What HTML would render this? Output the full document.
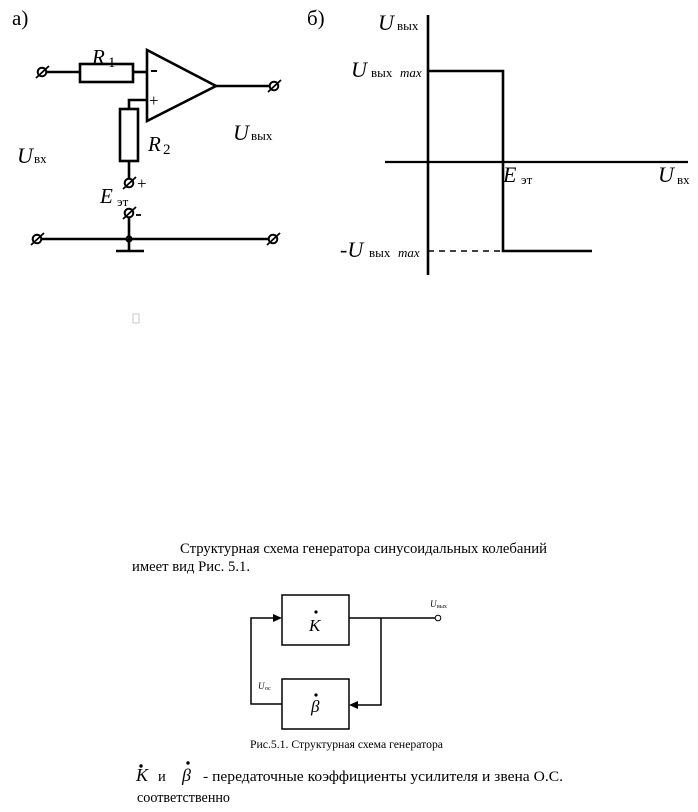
<!DOCTYPE html>
<html>
<head>
<meta charset="utf-8">
<style>
html,body{margin:0;padding:0;background:#fff;}
body{width:698px;height:812px;overflow:hidden;}
svg{display:block;}
text{font-family:"Liberation Serif","Noto Serif CJK SC",serif;fill:#000;}
.i{font-style:italic;}
</style>
</head>
<body>
<svg width="698" height="812" viewBox="0 0 698 812" xmlns="http://www.w3.org/2000/svg">
<rect width="698" height="812" fill="#fff"/>

<!-- ===== a) circuit ===== -->
<text x="12" y="25" font-size="21">а)</text>

<g stroke="#000" stroke-width="2.6" fill="none">
  <line x1="46" y1="72" x2="80" y2="72"/>
  <rect x="80" y="64" width="53" height="18"/>
  <line x1="133" y1="72" x2="147" y2="72"/>
  <polygon points="147,50 147,121 216,86" fill="#fff"/>
  <polyline points="147,100 129,100 129,109"/>
  <rect x="120" y="109" width="18" height="52"/>
  <line x1="129" y1="161" x2="129" y2="179"/>
  <line x1="129" y1="217" x2="129" y2="251"/>
  <line x1="116" y1="251" x2="144" y2="251"/>
  <line x1="41" y1="239" x2="269" y2="239"/>
  <line x1="216" y1="86" x2="270" y2="86"/>
</g>
<circle cx="129" cy="239" r="3.6" fill="#000"/>
<line x1="151" y1="71" x2="157" y2="71" stroke="#000" stroke-width="2"/>
<text x="149" y="106" font-size="17" fill="#333">+</text>

<g stroke="#000" stroke-width="2" fill="#fff">
  <circle cx="42" cy="72" r="4.3"/>
  <circle cx="274" cy="86" r="4.3"/>
  <circle cx="129" cy="183" r="4.3"/>
  <circle cx="129" cy="213" r="4.3"/>
  <circle cx="37" cy="239" r="4.3"/>
  <circle cx="273" cy="239" r="4.3"/>
</g>
<g stroke="#000" stroke-width="1.8">
  <line x1="36" y1="78" x2="49" y2="66"/>
  <line x1="268" y1="92" x2="281" y2="80"/>
  <line x1="123" y1="189" x2="136" y2="177"/>
  <line x1="123" y1="219" x2="136" y2="207"/>
  <line x1="31" y1="245" x2="44" y2="233"/>
  <line x1="267" y1="245" x2="280" y2="233"/>
</g>
<text x="137" y="189" font-size="17" fill="#333">+</text>
<line x1="136" y1="215" x2="141" y2="215" stroke="#000" stroke-width="1.8"/>

<text x="92" y="64" font-size="21" class="i">R</text>
<text x="108" y="67" font-size="15">1</text>
<text x="148" y="151" font-size="21" class="i">R</text>
<text x="163" y="154" font-size="15">2</text>
<text x="100" y="203" font-size="21" class="i">E</text>
<text x="117" y="206" font-size="13">эт</text>
<text x="17" y="163" font-size="22" class="i">U</text>
<text x="34" y="163" font-size="13">вх</text>
<text x="233" y="140" font-size="22" class="i">U</text>
<text x="251" y="140" font-size="13">вых</text>

<!-- ===== б) graph ===== -->
<text x="307" y="25" font-size="21">б)</text>
<g stroke="#000" fill="none">
  <line x1="428" y1="15" x2="428" y2="275" stroke-width="2.6"/>
  <line x1="385" y1="162" x2="688" y2="162" stroke-width="2.2"/>
  <polyline points="428,71 503,71 503,251 592,251" stroke-width="2.6"/>
  <line x1="428" y1="251" x2="503" y2="251" stroke-width="1.6" stroke-dasharray="6,5"/>
</g>
<text x="378" y="30" font-size="22" class="i">U</text>
<text x="397" y="30" font-size="13">вых</text>
<text x="351" y="77" font-size="22" class="i">U</text>
<text x="371" y="77" font-size="13">вых</text>
<text x="400" y="77" font-size="13" class="i">max</text>
<text x="340" y="257" font-size="22" class="i">-U</text>
<text x="369" y="257" font-size="13">вых</text>
<text x="398" y="257" font-size="13" class="i">max</text>
<text x="503" y="182" font-size="22" class="i">E</text>
<text x="521" y="184" font-size="13">эт</text>
<text x="658" y="182" font-size="22" class="i">U</text>
<text x="677" y="184" font-size="13">вх</text>

<rect x="133" y="314" width="6" height="9" fill="none" stroke="#bbb" stroke-width="0.8"/>

<!-- ===== paragraph ===== -->
<text x="180" y="553" font-size="14.5" textLength="367" lengthAdjust="spacingAndGlyphs">Структурная схема генератора  синусоидальных  колебаний</text>
<text x="132" y="571" font-size="14.5" textLength="118" lengthAdjust="spacingAndGlyphs">имеет вид Рис. 5.1.</text>

<!-- ===== block diagram ===== -->
<g stroke="#000" stroke-width="1.5" fill="none">
  <rect x="282" y="595" width="67" height="50"/>
  <rect x="282" y="679" width="67" height="50"/>
  <line x1="349" y1="618" x2="435" y2="618"/>
  <polyline points="381,618 381,705 356,705"/>
  <polyline points="282,704 251,704 251,618 275,618"/>
</g>
<circle cx="438" cy="618" r="2.8" fill="#fff" stroke="#000" stroke-width="1"/>
<polygon points="282,618 273,614 273,622" fill="#000"/>
<polygon points="349,705 358,701 358,709" fill="#000"/>
<circle cx="316" cy="612" r="1.6" fill="#000"/>
<text x="309" y="631" font-size="17" class="i">K</text>
<circle cx="316" cy="695" r="1.6" fill="#000"/>
<text x="311" y="712" font-size="17" class="i">β</text>
<text x="430" y="607" font-size="9" class="i">U</text>
<text x="437" y="608" font-size="6">вых</text>
<text x="258" y="689" font-size="9" class="i">U</text>
<text x="265" y="690" font-size="6">ос</text>
<text x="250" y="748" font-size="12" textLength="193" lengthAdjust="spacingAndGlyphs">Рис.5.1. Структурная схема генератора</text>

<!-- ===== bottom text ===== -->
<circle cx="141" cy="766" r="1.7" fill="#000"/>
<text x="136" y="781" font-size="18" class="i">K</text>
<text x="158" y="781" font-size="14.5">и</text>
<circle cx="188" cy="763" r="1.7" fill="#000"/>
<text x="182" y="781" font-size="18" class="i">β</text>
<text x="203" y="781" font-size="14.5" textLength="360" lengthAdjust="spacingAndGlyphs">- передаточные  коэффициенты  усилителя  и  звена  О.С.</text>
<text x="137" y="802" font-size="14.5" textLength="93" lengthAdjust="spacingAndGlyphs">соответственно</text>
</svg>
</body>
</html>
